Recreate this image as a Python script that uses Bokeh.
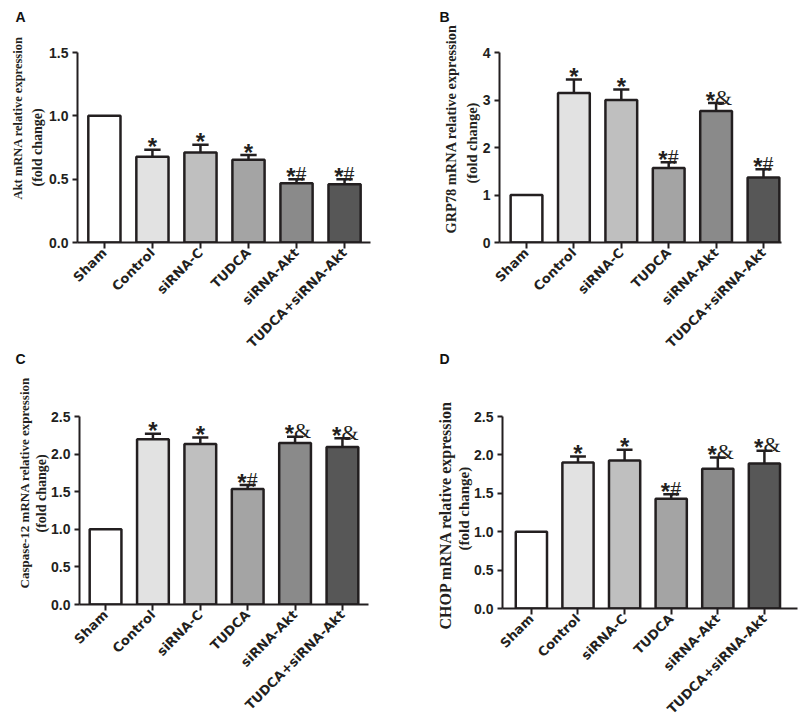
from math import pi
from bokeh.plotting import figure
from bokeh.layouts import column, row
from bokeh.models import ColumnDataSource, FixedTicker, Range1d, Title
from bokeh.core.properties import value
from bokeh.embed import file_html
from bokeh.resources import INLINE

# ---------------- data ----------------
groups = ["Sham", "Control", "siRNA-C", "TUDCA", "siRNA-Akt", "TUDCA+siRNA-Akt"]
bar_colors = ["#ffffff", "#e2e2e2", "#bfbfbf", "#a4a4a4", "#8a8a8a", "#575757"]

akt_mean = [1.0, 0.677, 0.711, 0.654, 0.467, 0.459]
akt_sem = [0.0, 0.055, 0.061, 0.036, 0.033, 0.040]
akt_sig = ["", "*", "*", "*", "*#", "*#"]
akt_ticks = [0, 0.5, 1.0, 1.5]
akt_tick_labels = ["0.0", "0.5", "1.0", "1.5"]

grp_mean = [1.0, 3.145, 2.998, 1.569, 2.767, 1.366]
grp_sem = [0.0, 0.285, 0.222, 0.121, 0.168, 0.174]
grp_sig = ["", "*", "*", "*#", "*&", "*#"]
grp_ticks = [0, 1, 2, 3, 4]
grp_tick_labels = ["0", "1", "2", "3", "4"]

casp_mean = [1.0, 2.199, 2.133, 1.535, 2.146, 2.093]
casp_sem = [0.0, 0.071, 0.087, 0.053, 0.084, 0.117]
casp_sig = ["", "*", "*", "*#", "*&", "*&"]
casp_ticks = [0, 0.5, 1.0, 1.5, 2.0, 2.5]
casp_tick_labels = ["0.0", "0.5", "1.0", "1.5", "2.0", "2.5"]

chop_mean = [1.0, 1.90, 1.927, 1.428, 1.819, 1.888]
chop_sem = [0.0, 0.080, 0.139, 0.061, 0.147, 0.165]
chop_sig = ["", "*", "*", "*#", "*&", "*&"]
chop_ticks = [0, 0.5, 1.0, 1.5, 2.0, 2.5]
chop_tick_labels = ["0.0", "0.5", "1.0", "1.5", "2.0", "2.5"]

# ---------------- style ----------------
INK = "#231f20"
LABEL_FONT = "Liberation Serif"


def letter_title(text, offset, standoff):
    return Title(text=text, align="left", offset=offset, standoff=standoff,
                 vertical_align="top",
                 text_font="Liberation Sans", text_font_style="bold",
                 text_font_size="14px", text_color="#111111")


def make_panel(mean, sem, sig, ticks, tick_labels, ylabel, cfg):
    xs = list(range(len(groups)))
    p = figure(frame_width=cfg["fw"], frame_height=cfg["fh"],
               x_range=Range1d(cfg["x0"], cfg["x1"]),
               y_range=Range1d(0, ticks[-1]),
               output_backend="svg", toolbar_location=None,
               min_border_left=cfg["bl"], min_border_right=cfg["br"],
               min_border_top=cfg["bt"], min_border_bottom=cfg["bb"])
    p.title.visible = False
    p.outline_line_color = None
    p.xgrid.visible = False
    p.ygrid.visible = False
    p.background_fill_color = "white"
    p.border_fill_color = "white"

    src = ColumnDataSource(dict(x=xs, mean=mean, color=bar_colors))
    p.vbar(x="x", top="mean", bottom=0, width=0.67, source=src,
           fill_color="color", line_color=INK, line_width=2.5)

    ex, elo, ehi = [], [], []
    for i in xs:
        if sem[i] > 0:
            ex.append(i)
            elo.append(mean[i])
            ehi.append(mean[i] + sem[i])
    esrc = ColumnDataSource(dict(x=ex, lo=elo, hi=ehi,
                                 cl=[v - 0.17 for v in ex],
                                 cr=[v + 0.17 for v in ex]))
    p.segment(x0="x", y0="lo", x1="x", y1="hi", source=esrc,
              line_color=INK, line_width=2.5)
    p.segment(x0="cl", y0="hi", x1="cr", y1="hi", source=esrc,
              line_color=INK, line_width=2.5)

    # significance marks
    s1x, s1y, s2x, s2y, sym = [], [], [], [], []
    for i in xs:
        if not sig[i]:
            continue
        top = mean[i] + sem[i]
        if len(sig[i]) == 1:
            s1x.append(i)
            s1y.append(top)
        else:
            s2x.append(i)
            s2y.append(top)
            sym.append(sig[i][1:])
    p.text(x=s1x, y=s1y, text=["*"] * len(s1x), text_align="center",
           text_baseline="alphabetic", y_offset=-3,
           text_font=value("Liberation Sans"), text_font_style="bold",
           text_font_size="24px", text_color=INK)
    p.text(x=s2x, y=s2y, text=["*"] * len(s2x), text_align="right",
           text_baseline="alphabetic", y_offset=-3, x_offset=-1,
           text_font=value("Liberation Sans"), text_font_style="bold",
           text_font_size="24px", text_color=INK)
    p.text(x=s2x, y=s2y, text=sym, text_align="left",
           text_baseline="alphabetic", y_offset=-6, x_offset=-1,
           text_font=value(LABEL_FONT), text_font_style="normal",
           text_font_size="22px", text_color=INK)

    # axes
    for ax in (p.xaxis[0], p.yaxis[0]):
        ax.axis_line_color = INK
        ax.axis_line_width = 2
        ax.major_tick_line_color = INK
        ax.major_tick_line_width = 2
        ax.minor_tick_line_color = None
        ax.major_tick_in = 0
        ax.major_label_text_font_style = "bold"
        ax.major_label_text_color = INK
    p.xaxis.ticker = FixedTicker(ticks=xs)
    p.xaxis.major_label_overrides = {i: g for i, g in enumerate(groups)}
    p.xaxis.major_label_orientation = pi / 4
    p.xaxis.major_label_text_font = "DejaVu Sans"
    p.xaxis.major_label_text_font_size = "13px"
    p.xaxis.major_tick_out = 6
    p.xaxis.major_label_standoff = 2
    p.yaxis.ticker = FixedTicker(ticks=ticks)
    p.yaxis.major_label_overrides = {t: l for t, l in zip(ticks, tick_labels)}
    p.yaxis.major_label_text_font = "Liberation Sans"
    p.yaxis.major_label_text_font_size = "14px"
    p.yaxis.major_tick_out = 5
    p.yaxis.major_label_standoff = 4

    # y axis title: two lines as side titles (not clipped by the frame)
    for txt, sd, off, fs in (("(fold change)", cfg["s1"], cfg["o1"], cfg["f1"]),
                             (ylabel, cfg["s2"], cfg["o2"], cfg["f2"])):
        p.add_layout(Title(text=txt, align="left", offset=off, standoff=sd,
                           text_font=LABEL_FONT, text_font_style="bold",
                           text_font_size=fs, text_color=INK), "left")
    # panel letters
    if cfg.get("top_letter"):
        p.add_layout(Title(text=" ", standoff=cfg["sp"],
                           text_font_size="14px"), "above")
        p.add_layout(letter_title(cfg["top_letter"], cfg["pl"], 0), "above")
    if cfg.get("bottom_letter"):
        p.add_layout(letter_title(cfg["bottom_letter"], cfg["pl"], -16), "below")
    return p


cfgA = dict(fw=293, fh=190, bl=77, br=30, bt=52, bb=124, x0=-0.56, x1=5.54,
            f1="14px", o1=56, s1=3, f2="12.5px", o2=43, s2=3,
            pl=-62, sp=8, top_letter="A", bottom_letter="C")
cfgB = dict(fw=282, fh=190, bl=99, br=18, bt=52, bb=124, x0=-0.57, x1=5.38,
            f1="14.5px", o1=59, s1=0, f2="14.4px", o2=9, s2=6,
            pl=-60, sp=8, top_letter="B", bottom_letter="D")
cfgC = dict(fw=289, fh=188, bl=79, br=32, bt=50, bb=0, x0=-0.55, x1=5.55,
            f1="14px", o1=72, s1=0, f2="13px", o2=16, s2=0,
            pl=-66)
cfgD = dict(fw=295, fh=192, bl=102, br=2, bt=50, bb=0, x0=-0.62, x1=5.71,
            f1="15px", o1=58, s1=0, f2="16px", o2=-21, s2=0,
            pl=-62)

pA = make_panel(akt_mean, akt_sem, akt_sig, akt_ticks, akt_tick_labels,
                "Akt mRNA relative expression", cfgA)
pB = make_panel(grp_mean, grp_sem, grp_sig, grp_ticks, grp_tick_labels,
                "GRP78 mRNA relative expression", cfgB)
pC = make_panel(casp_mean, casp_sem, casp_sig, casp_ticks, casp_tick_labels,
                "Caspase-12 mRNA relative expression", cfgC)
pD = make_panel(chop_mean, chop_sem, chop_sig, chop_ticks, chop_tick_labels,
                "CHOP mRNA relative expression", cfgD)

layout = column(row(pA, pB), row(pC, pD))
open("out.html", "w").write(file_html(layout, INLINE))
